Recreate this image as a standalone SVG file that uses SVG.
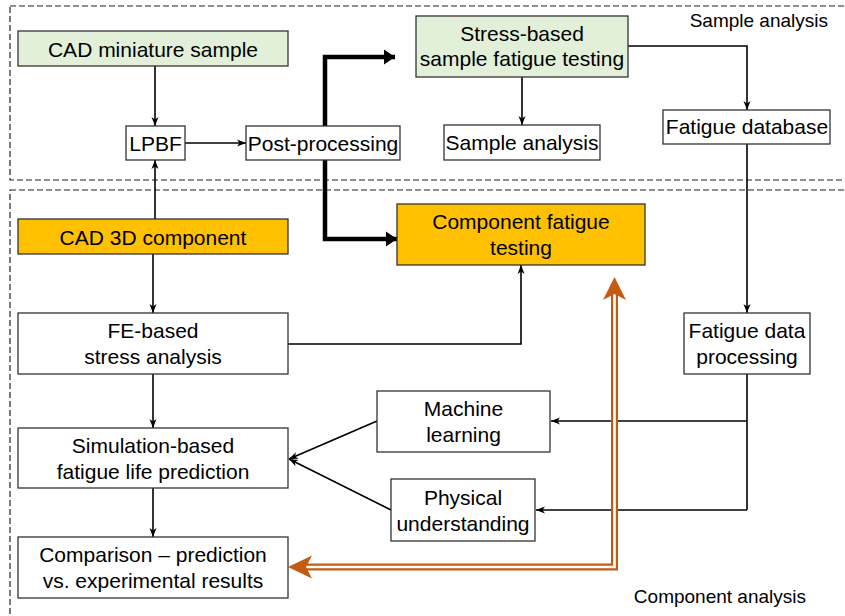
<svg xmlns="http://www.w3.org/2000/svg" width="845" height="616" viewBox="0 0 845 616">
<defs>
<style>
.box{stroke:#333;stroke-width:1.3}
.w{fill:#fff}
.g{fill:#E2F0D9}
.o{fill:#FFC000}
text{font-family:"Liberation Sans",Arial,sans-serif;font-size:21px;fill:#000;text-anchor:middle}
.lab{font-size:19px}
.ln{fill:none;stroke:#000;stroke-width:1.6}
.thick{fill:none;stroke:#000;stroke-width:4.5}
.dash{fill:none;stroke:#222;stroke-width:1.2;stroke-dasharray:6 3}
</style>
<marker id="a" viewBox="-10 -5 11 10" refX="0" refY="0" markerWidth="11" markerHeight="10" markerUnits="userSpaceOnUse" orient="auto">
<path d="M0,0 L-9,-3.5 L-6.5,0 L-9,3.5 Z" fill="#000"/>
</marker>
<marker id="b" viewBox="-12 -8 13 16" refX="0" refY="0" markerWidth="13" markerHeight="16" markerUnits="userSpaceOnUse" orient="auto">
<path d="M0,0 L-11,-7.5 L-11,7.5 Z" fill="#000"/>
</marker>
</defs>

<g id="regions">
<rect class="dash" x="10" y="6" width="860" height="174"/>
<rect class="dash" x="10" y="190" width="860" height="450"/>
<text class="lab" x="828" y="27" style="text-anchor:end">Sample analysis</text>
<text class="lab" x="806" y="603" style="text-anchor:end">Component analysis</text>
</g>

<g id="connectors">
<line class="ln" x1="155" y1="66" x2="155" y2="126" marker-end="url(#a)"/>
<line class="ln" x1="155" y1="219" x2="155" y2="160" marker-end="url(#a)"/>
<line class="ln" x1="185" y1="143" x2="246" y2="143" marker-end="url(#a)"/>
<path class="thick" d="M325,126 V57 H395" marker-end="url(#b)"/>
<path class="thick" d="M325,160 V239 H397" marker-end="url(#b)"/>
<line class="ln" x1="522" y1="77" x2="522" y2="125" marker-end="url(#a)"/>
<path class="ln" d="M628,46 H747 V110" marker-end="url(#a)"/>
<line class="ln" x1="747" y1="144" x2="747" y2="313" marker-end="url(#a)"/>
<path class="ln" d="M288,344 H521 V265" marker-end="url(#a)"/>
<line class="ln" x1="153" y1="254" x2="153" y2="313" marker-end="url(#a)"/>
<line class="ln" x1="153" y1="374" x2="153" y2="428" marker-end="url(#a)"/>
<line class="ln" x1="153" y1="488" x2="153" y2="537" marker-end="url(#a)"/>
<path class="ln" d="M747,374 V510"/>
<line class="ln" x1="747" y1="421" x2="551" y2="421" marker-end="url(#a)"/>
<line class="ln" x1="747" y1="510" x2="536" y2="510" marker-end="url(#a)"/>
<line class="ln" x1="377" y1="421" x2="289" y2="459" marker-end="url(#a)"/>
<line class="ln" x1="391" y1="510" x2="289" y2="459" marker-end="url(#a)"/>
<g id="double-arrow">
<path d="M614.5,294 V567 H306" fill="none" stroke="#C55A11" stroke-width="7"/>
<path d="M614.5,293 V567 H305" fill="none" stroke="#fff" stroke-width="2.6"/>
<path d="M614.5,277 L626,300 L614.5,294 L603,300 Z" fill="#C55A11"/>
<path d="M288,567 L312,555.5 L306,567 L312,578.5 Z" fill="#C55A11"/>
</g>
</g>

<g id="cad-miniature"><rect class="box g" x="18" y="31" width="270" height="35"/><text x="153" y="57">CAD miniature sample</text></g>
<g id="lpbf"><rect class="box w" x="126" y="126" width="59" height="34"/><text x="155.5" y="151">LPBF</text></g>
<g id="post-processing"><rect class="box w" x="246" y="126" width="154" height="34"/><text x="323" y="151">Post-processing</text></g>
<g id="stress-based"><rect class="box g" x="416" y="16" width="212" height="61"/><text x="522" y="41">Stress-based</text><text x="522" y="66">sample fatigue testing</text></g>
<g id="sample-analysis"><rect class="box w" x="444" y="125" width="156" height="35"/><text x="522" y="150">Sample analysis</text></g>
<g id="fatigue-database"><rect class="box w" x="663" y="110" width="167" height="34"/><text x="747" y="134">Fatigue database</text></g>
<g id="cad-3d"><rect class="box o" x="18" y="219" width="270" height="35"/><text x="153" y="245">CAD 3D component</text></g>
<g id="component-testing"><rect class="box o" x="397" y="204" width="248" height="61"/><text x="521" y="229">Component fatigue</text><text x="521" y="255">testing</text></g>
<g id="fe-based"><rect class="box w" x="18" y="313" width="270" height="61"/><text x="153" y="338">FE-based</text><text x="153" y="364">stress analysis</text></g>
<g id="fatigue-data-processing"><rect class="box w" x="684" y="313" width="126" height="61"/><text x="747" y="338">Fatigue data</text><text x="747" y="364">processing</text></g>
<g id="machine-learning"><rect class="box w" x="377" y="391" width="173" height="61"/><text x="463.5" y="416">Machine</text><text x="463.5" y="442">learning</text></g>
<g id="physical"><rect class="box w" x="391" y="479" width="144" height="62"/><text x="463" y="505">Physical</text><text x="463" y="531">understanding</text></g>
<g id="simulation"><rect class="box w" x="18" y="428" width="270" height="60"/><text x="153" y="453">Simulation-based</text><text x="153" y="479">fatigue life prediction</text></g>
<g id="comparison"><rect class="box w" x="18" y="537" width="270" height="61"/><text x="153" y="562">Comparison – prediction</text><text x="153" y="588">vs. experimental results</text></g>
</svg>
